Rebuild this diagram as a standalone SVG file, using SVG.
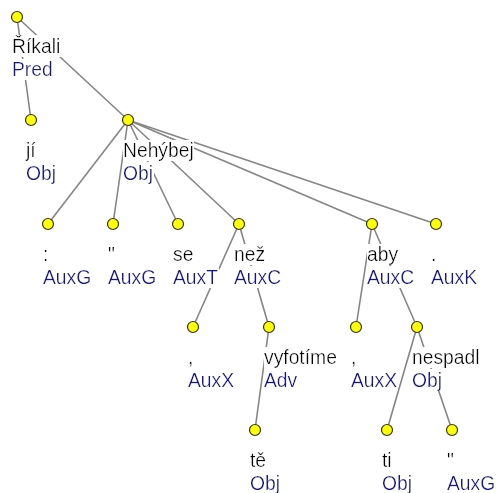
<svg xmlns="http://www.w3.org/2000/svg" width="497" height="493" viewBox="0 0 497 493">
<defs>
<filter id="bg" x="0" y="0" width="1" height="1"><feFlood flood-color="#ffffff"/><feComposite in="SourceGraphic" operator="over"/></filter>
<style>
.e{stroke:#858585;stroke-width:1.6;fill:none}
.n{fill:#ffff00;stroke:#333333;stroke-width:1.2}
text{font-family:"Liberation Sans",Arial,sans-serif;font-size:19.3px;filter:url(#bg)}
.w{fill:#000000}
.a{fill:#15158c}
</style>
</defs>
<rect width="497" height="493" fill="#ffffff"/>
<g id="edges">
<line class="e" x1="17" y1="17" x2="31" y2="120"/>
<line class="e" x1="17" y1="17" x2="128" y2="120"/>
<line class="e" x1="128" y1="120" x2="48" y2="224"/>
<line class="e" x1="128" y1="120" x2="113" y2="224"/>
<line class="e" x1="128" y1="120" x2="178" y2="224"/>
<line class="e" x1="128" y1="120" x2="239" y2="224"/>
<line class="e" x1="128" y1="120" x2="372" y2="224"/>
<line class="e" x1="128" y1="120" x2="436" y2="224"/>
<line class="e" x1="239" y1="224" x2="193" y2="327"/>
<line class="e" x1="239" y1="224" x2="269" y2="327"/>
<line class="e" x1="269" y1="327" x2="255" y2="430"/>
<line class="e" x1="372" y1="224" x2="356" y2="327"/>
<line class="e" x1="372" y1="224" x2="417" y2="327"/>
<line class="e" x1="417" y1="327" x2="387" y2="430"/>
<line class="e" x1="417" y1="327" x2="452" y2="430"/>
</g>
<g id="n-rikali"><text class="w" x="12" y="53">Říkali</text><text class="a" x="12" y="76">Pred</text><circle class="n" cx="17" cy="17" r="5.5"/></g>
<g id="n-ji"><text class="w" x="26" y="157">jí</text><text class="a" x="26" y="179.5">Obj</text><circle class="n" cx="31" cy="120" r="5.5"/></g>
<g id="n-nehybej"><text class="w" x="123" y="157">Nehýbej</text><text class="a" x="123" y="179.5">Obj</text><circle class="n" cx="128" cy="120" r="5.5"/></g>
<g id="n-colon"><text class="w" x="43" y="261">:</text><text class="a" x="43" y="283.5">AuxG</text><circle class="n" cx="48" cy="224" r="5.5"/></g>
<g id="n-quote1"><text class="w" x="108" y="261">"</text><text class="a" x="108" y="283.5">AuxG</text><circle class="n" cx="113" cy="224" r="5.5"/></g>
<g id="n-se"><text class="w" x="173" y="261">se</text><text class="a" x="173" y="283.5">AuxT</text><circle class="n" cx="178" cy="224" r="5.5"/></g>
<g id="n-nez"><text class="w" x="234" y="261">než</text><text class="a" x="234" y="283.5">AuxC</text><circle class="n" cx="239" cy="224" r="5.5"/></g>
<g id="n-aby"><text class="w" x="367" y="261">aby</text><text class="a" x="367" y="283.5">AuxC</text><circle class="n" cx="372" cy="224" r="5.5"/></g>
<g id="n-period"><text class="w" x="431" y="261">.</text><text class="a" x="431" y="283.5">AuxK</text><circle class="n" cx="436" cy="224" r="5.5"/></g>
<g id="n-comma1"><text class="w" x="188" y="364">,</text><text class="a" x="188" y="386.5">AuxX</text><circle class="n" cx="193" cy="327" r="5.5"/></g>
<g id="n-vyfotime"><text class="w" x="264" y="364">vyfotíme</text><text class="a" x="264" y="386.5">Adv</text><circle class="n" cx="269" cy="327" r="5.5"/></g>
<g id="n-comma2"><text class="w" x="351" y="364">,</text><text class="a" x="351" y="386.5">AuxX</text><circle class="n" cx="356" cy="327" r="5.5"/></g>
<g id="n-nespadl"><text class="w" x="412" y="364">nespadl</text><text class="a" x="412" y="386.5">Obj</text><circle class="n" cx="417" cy="327" r="5.5"/></g>
<g id="n-te"><text class="w" x="250" y="467">tě</text><text class="a" x="250" y="489.5">Obj</text><circle class="n" cx="255" cy="430" r="5.5"/></g>
<g id="n-ti"><text class="w" x="382" y="467">ti</text><text class="a" x="382" y="489.5">Obj</text><circle class="n" cx="387" cy="430" r="5.5"/></g>
<g id="n-quote2"><text class="w" x="447" y="467">"</text><text class="a" x="447" y="489.5">AuxG</text><circle class="n" cx="452" cy="430" r="5.5"/></g>
</svg>
